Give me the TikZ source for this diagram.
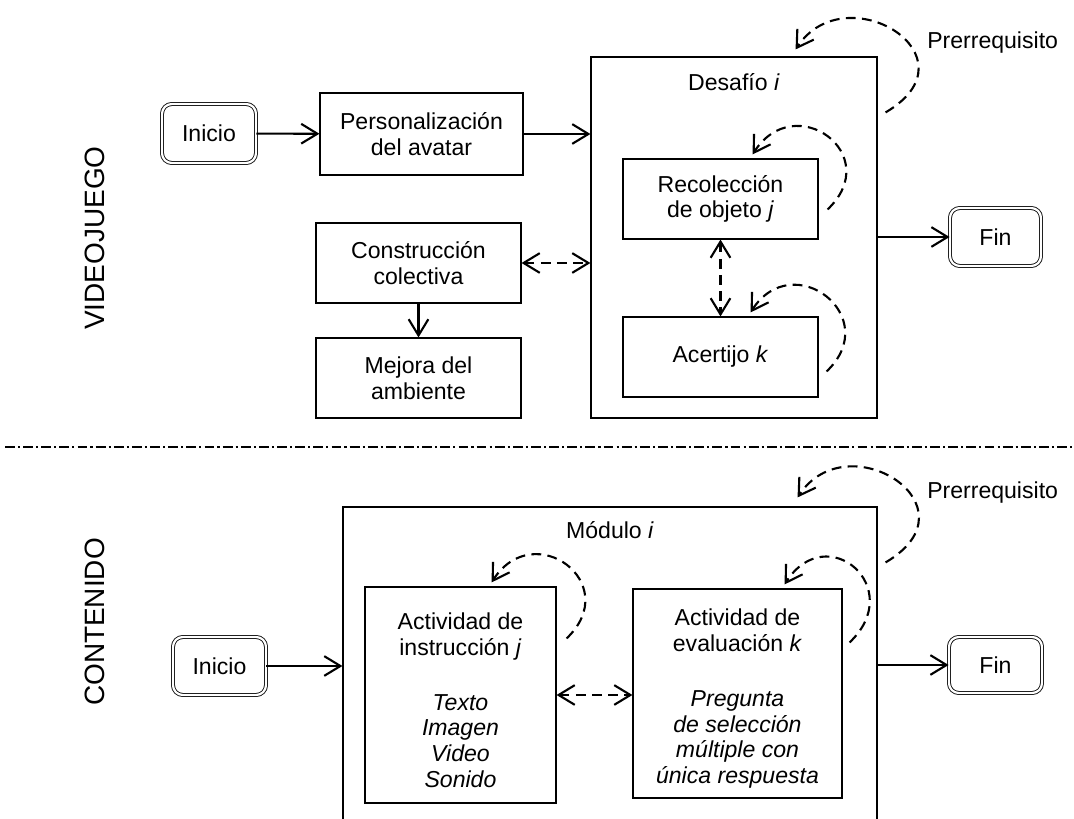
\documentclass[tikz,border=0pt]{standalone}
\usepackage{fontspec}
\setmainfont{Liberation Sans}
\usetikzlibrary{arrows.meta, calc}
\tikzset{%
	>={Straight Barb[length = 11.5pt, width = 14pt]},
	flecha/.style = {->, line width = 1.5pt},
	caja/.style 2 args = {draw, line width = 0.8pt, align = center, inner sep = 0pt, minimum width = #1*0.025cm, minimum height = #2*0.025cm},
	term/.style 2 args = {caja = {#1}{#2}, rounded corners = 7pt, double, double distance = 1.6pt, line width = 0.6pt},
	nota/.style = {inner sep = 0pt},
	lazo/.style = {->, line width = 1.5pt, dash pattern = on 7pt off 4.5pt},
	ida/.style = {<->, line width = 1.5pt, dash pattern = on 7pt off 4.5pt},
	eje/.style = {inner sep = 0pt, rotate = 90, font = \fontsize{19.9}{22}\selectfont},
	divisor/.style = {line width = 1.3pt, dash pattern = on 7pt off 2.2pt on 1.5pt off 2.2pt}
}
\begin{document}
\begin{tikzpicture}[x = 0.025cm, y = -0.025cm, font = \fontsize{16.4}{18.2}\selectfont]
	\useasboundingbox (0,0) rectangle (1074,819);
	\clip (0,0) rectangle (1074,819);
	\node [eje] (videojuego) at (95,238) {VIDEOJUEGO};
	\node [eje] (contenido) at (95,622) {CONTENIDO};
	\node [term = {94}{59}] (inicioV) at (209,133.5) {Inicio};
	\node [caja = {203}{82}] (perso) at (421.5,134) {Personalización\\del avatar};
	\node [caja = {286}{361}] (desafio) at (734,237.5) {};
	\node [nota] (desafioTit) at (734,82) {Desafío \textit{i}};
	\node [caja = {195}{80}] (recol) at (720.5,199) {Recolección\\de objeto \textit{j}};
	\node [caja = {195}{80}] (acert) at (720.5,357) {Acertijo \textit{k}};
	\node [caja = {205}{80}] (constr) at (418.5,263) {Construcción\\colectiva};
	\node [caja = {205}{80}] (mejora) at (418.5,378) {Mejora del\\ambiente};
	\node [term = {91}{58}] (finV) at (995.5,237) {Fin};
	\node [nota, anchor = west] (prereqV) at (927,43) {Prerrequisito};
	\path [flecha] (inicioV) edge (perso);
	\path [flecha] (perso.east) edge (perso.east -| desafio.west);
	\path [flecha] (constr) edge (mejora);
	\path [ida] (constr.east) edge (constr.east -| desafio.west);
	\path [ida] (recol) edge (acert);
	\path [flecha] (desafio.east |- finV) edge (finV);
	\draw [lazo] ($(desafio.north east)+(8,56)$) .. controls +(95,-56) and +(50,-76) .. ($(desafio.north east)+(-82,-7)$);
	\draw [lazo] ($(recol.north east)+(9,51)$) .. controls +(58,-55) and +(42,-66) .. ($(recol.north east)+(-66,-4)$);
	\draw [lazo] ($(acert.north east)+(8,55)$) .. controls +(58,-55) and +(42,-66) .. ($(acert.north east)+(-68,-4)$);
	\draw [divisor] (5,447) -- (1074,447);
	\node [caja = {534}{328}] (modulo) at (610,671) {};
	\node [nota] (moduloTit) at (610,530) {Módulo \textit{i}};
	\node [caja = {191}{216}] (instr) at (460.5,695) {\rule{0pt}{0.675cm}Actividad de\\instrucción \textit{j}\\[0.74cm]\textit{Texto}\\\textit{Imagen}\\\textit{Video}\\\textit{Sonido}};
	\node [caja = {209}{209}] (evalu) at (737.5,693.5) {\rule{0pt}{0.675cm}Actividad de\\evaluación \textit{k}\\[0.74cm]\textit{Pregunta}\\\textit{de selección}\\\textit{múltiple con}\\\textit{única respuesta}};
	\node [term = {93}{58}] (inicioC) at (219.5,666) {Inicio};
	\node [term = {93}{56}] (finC) at (995.5,665) {Fin};
	\node [nota, anchor = west] (prereqC) at (927,493) {Prerrequisito};
	\path [flecha] (inicioC) edge (inicioC -| modulo.west);
	\path [flecha] (modulo.east |- finC) edge (finC);
	\path [ida] (instr.east) edge (instr.east -| evalu.west);
	\draw [lazo] ($(modulo.north east)+(8,56)$) .. controls +(95,-56) and +(50,-76) .. ($(modulo.north east)+(-80,-9)$);
	\draw [lazo] ($(instr.north east)+(10,52)$) .. controls +(58,-55) and +(42,-66) .. ($(instr.north east)+(-65,-4)$);
	\draw [lazo] ($(evalu.north east)+(7,54)$) .. controls +(58,-55) and +(42,-66) .. ($(evalu.north east)+(-58,-4)$);
\end{tikzpicture}
\end{document}
